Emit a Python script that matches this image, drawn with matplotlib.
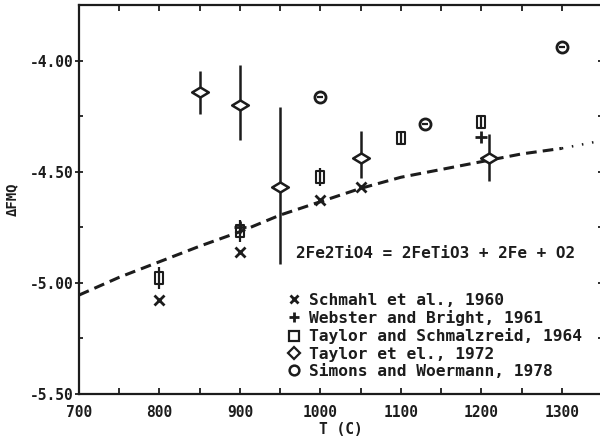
import numpy as np
import matplotlib
matplotlib.use("Agg")
import matplotlib.pyplot as plt
from matplotlib.path import Path
from matplotlib.lines import Line2D
from matplotlib.ticker import MultipleLocator, FormatStrFormatter

# Calculated equilibrium curve (dashed) and its extrapolation (dotted)
calc_T = [700, 750, 800, 850, 900, 950, 1000, 1050, 1100, 1150, 1200, 1250, 1300]
calc_dFMQ = [-5.055, -4.975, -4.905, -4.835, -4.77, -4.695, -4.635, -4.575,
             -4.525, -4.49, -4.455, -4.42, -4.395]
extrap_T = [1300, 1350]
extrap_dFMQ = [-4.395, -4.36]

# Experimental data
schmahl_T = [800, 900, 1000, 1050]
schmahl = [-5.077, -4.86, -4.626, -4.57]

webster_T = [900, 1200]
webster = [-4.75, -4.345]

tsch_T = [800, 900, 1000, 1100, 1200]
tsch = [-4.977, -4.765, -4.523, -4.347, -4.276]
tsch_err = [0.05, 0.05, 0.04, 0.03, 0.03]

taylor_T = [850, 900, 950, 1050, 1210]
taylor = [-4.14, -4.198, -4.567, -4.437, -4.44]
taylor_err_lo = [0.10, 0.16, 0.35, 0.09, 0.10]
taylor_err_hi = [0.095, 0.18, 0.36, 0.12, 0.11]

simons_T = [1000, 1130, 1300]
simons = [-4.163, -4.284, -3.94]

legend_labels = ["Schmahl et al., 1960", "Webster and Bright, 1961",
                 "Taylor and Schmalzreid, 1964", "Taylor et el., 1972",
                 "Simons and Woermann, 1978"]
reaction_text = "2Fe2TiO4 = 2FeTiO3 + 2Fe + O2"

INK = "#1c1c1c"
FONT = "DejaVu Sans Mono"
plt.rcParams["font.family"] = [FONT]
plt.rcParams["font.weight"] = "bold"

fig = plt.figure(figsize=(6.0, 4.36), dpi=100)
ax = fig.add_axes([79 / 600, 42 / 436, 523 / 600, 389 / 436])

# flattened diamond and tall box used on the plot
flat_diamond = Path([(-1, 0), (0, 0.6), (1, 0), (0, -0.6), (-1, 0)],
                    [Path.MOVETO, Path.LINETO, Path.LINETO, Path.LINETO, Path.CLOSEPOLY])
tall_box = Path([(-0.65, -1), (0.65, -1), (0.65, 1), (-0.65, 1), (-0.65, -1)],
                [Path.MOVETO, Path.LINETO, Path.LINETO, Path.LINETO, Path.CLOSEPOLY])

ax.plot(calc_T, calc_dFMQ, color=INK, lw=2.2, ls=(0, (3.5, 2)), zorder=2)
ax.plot(extrap_T, extrap_dFMQ, color=INK, lw=1.8, ls=(0, (0.6, 3.5)), zorder=2)

ax.plot(schmahl_T, schmahl, ls="none", marker="x", ms=7, mew=2, color=INK, zorder=4)
ax.plot(webster_T, webster, ls="none", marker="+", ms=8, mew=2, color=INK, zorder=4)
ax.errorbar(tsch_T, tsch, yerr=tsch_err, fmt="none", ecolor=INK, elinewidth=1.6, zorder=3)
ax.plot(tsch_T, tsch, ls="none", marker=tall_box, ms=8, mew=1.5, mfc="none",
        mec=INK, zorder=4)
ax.errorbar(taylor_T, taylor, yerr=[taylor_err_lo, taylor_err_hi], fmt="none",
            ecolor=INK, elinewidth=1.8, zorder=3)
ax.plot(taylor_T, taylor, ls="none", marker=flat_diamond, ms=12, mew=1.8,
        mfc="white", mec=INK, zorder=4)
ax.plot(simons_T, simons, ls="none", marker="o", ms=8, mew=2, mfc="none",
        mec=INK, zorder=4)
ax.plot(simons_T, simons, ls="none", marker="_", ms=5, mew=1.6, color=INK, zorder=5)

ax.set_xlim(700, 1350)
ax.set_ylim(-5.5, -3.75)
ax.xaxis.set_major_locator(MultipleLocator(100))
ax.xaxis.set_minor_locator(MultipleLocator(50))
ax.yaxis.set_major_locator(MultipleLocator(0.5))
ax.yaxis.set_minor_locator(MultipleLocator(0.25))
ax.yaxis.set_major_formatter(FormatStrFormatter("%.2f"))

for s in ax.spines.values():
    s.set_linewidth(1.6)
    s.set_color(INK)

ax.tick_params(axis="x", which="both", direction="in", top=True, length=4,
               width=1.3, colors=INK, labelsize=10.5, pad=8)
ax.tick_params(axis="y", which="major", direction="inout", right=True, length=6,
               width=1.3, colors=INK, labelsize=10.5, pad=1)
ax.tick_params(axis="y", which="minor", direction="in", right=True, length=3,
               width=1.3, colors=INK)
for lbl in ax.get_xticklabels() + ax.get_yticklabels():
    lbl.set_fontweight("bold")

ax.set_xlabel("T (C)", fontsize=10.5, fontweight="bold", color=INK, labelpad=1)
ax.set_ylabel("\u0394FMQ", fontsize=10, fontweight="bold", color=INK,
              family=[FONT, "DejaVu Sans"], labelpad=8)

ax.text(0.415, 0.36, reaction_text, transform=ax.transAxes, fontsize=11.5,
        fontweight="bold", color=INK, va="center", ha="left")

handles = [
    Line2D([], [], ls="none", marker="x", ms=6, mew=2, color=INK),
    Line2D([], [], ls="none", marker="+", ms=7, mew=2, color=INK),
    Line2D([], [], ls="none", marker="s", ms=7, mew=1.6, mfc="none", mec=INK),
    Line2D([], [], ls="none", marker="D", ms=6, mew=1.6, mfc="none", mec=INK),
    Line2D([], [], ls="none", marker="o", ms=7, mew=1.8, mfc="none", mec=INK),
]
leg = ax.legend(handles, legend_labels, loc="upper left",
                bbox_to_anchor=(0.395, 0.26), frameon=False,
                prop={"family": FONT, "weight": "bold", "size": 11.7},
                handlelength=1.0, handletextpad=0.45, labelspacing=0.14,
                borderpad=0, borderaxespad=0)
for t in leg.get_texts():
    t.set_color(INK)

fig.savefig("out.png", dpi=100)
